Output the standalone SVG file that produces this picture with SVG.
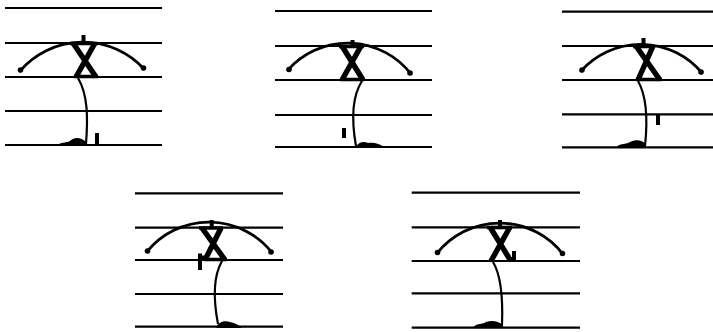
<svg xmlns="http://www.w3.org/2000/svg" width="713" height="332" viewBox="0 0 713 332">
<style>
.staff{stroke:#000;stroke-width:2.2;fill:none}
.arc{stroke:#000;stroke-width:2.8;fill:none;stroke-linecap:round}
.x{stroke:#000;stroke-width:5.4;fill:none;stroke-linejoin:miter}
.bar{stroke:#000;stroke-width:3.6;fill:none}
.tick{stroke:#000;stroke-width:4;fill:none}
.stem{stroke:#000;stroke-width:2.2;fill:none}
.ink{fill:#000}
</style>
<rect width="713" height="332" fill="#fff"/>

<g id="figure1">
  <path class="staff" d="M5,8H162M5,43H162M5,77H162M5,111H162M5,145H162"/>
  <path class="arc" d="M20,71 A83,83 0 0 1 144,69"/>
  <circle class="ink" cx="20.5" cy="70" r="2.8"/><circle class="ink" cx="143.5" cy="68" r="2.8"/>
  <path class="bar" d="M70,43.5H98M74,76.5H98"/>
  <path class="x" d="M73,43 L96,77 M95,43 L76,77"/>
  <path class="tick" d="M83.5,35V44"/>
  <path class="stem" d="M78,78 C88,95 88,118 86,144"/>
  <path class="ink" d="M57,146 C59,142 66,143 70,141 C74,137 81,137 86,142 L86,146 Z"/>
  <rect class="ink" x="95" y="133" width="4" height="11"/>
</g>

<g id="figure2">
  <path class="staff" d="M275,11H432M275,46H432M275,80H432M275,115H432M275,147H432"/>
  <path class="arc" d="M288,70 A80,80 0 0 1 411,74"/>
  <circle class="ink" cx="289" cy="69.5" r="2.8"/><circle class="ink" cx="410" cy="73" r="2.8"/>
  <path class="bar" d="M339,46.5H364M340,79.5H364"/>
  <path class="x" d="M342,46 L363,80 M361,46 L342,80"/>
  <path class="tick" d="M352.5,40V47"/>
  <path class="stem" d="M362,81 C353,95 351,118 356,146"/>
  <path class="ink" d="M356,147 C358,142 364,141 368,143 C374,142 380,144 384,147 Z"/>
  <rect class="ink" x="342" y="128" width="4" height="10"/>
</g>

<g id="figure3">
  <path class="staff" d="M562,11.7H713M562,46H713M562,80H713M562,114.3H713M562,147.3H713"/>
  <path class="arc" d="M581,71 A80,80 0 0 1 702,73"/>
  <circle class="ink" cx="582" cy="70" r="2.8"/><circle class="ink" cx="701" cy="72" r="2.8"/>
  <path class="bar" d="M633,46.5H655M636,79.5H662"/>
  <path class="x" d="M636,46 L660,80 M653,46 L638,80"/>
  <path class="tick" d="M643.5,38V47"/>
  <path class="stem" d="M638,81 C646,95 648,118 645,146"/>
  <path class="ink" d="M616,148 C618,143 625,145 630,142 C636,139 642,140 646,144 L646,148 Z"/>
  <rect class="ink" x="656" y="115" width="4" height="10"/>
</g>

<g id="figure4">
  <path class="staff" d="M135,193.3H283M135,227.7H283M135,260H283M135,294H283M135,326.7H283"/>
  <path class="arc" d="M147,251.7 A80,80 0 0 1 272,252.7"/>
  <circle class="ink" cx="147.5" cy="251" r="2.8"/><circle class="ink" cx="271" cy="252" r="2.8"/>
  <path class="bar" d="M199,228H223M204,259.5H227"/>
  <path class="x" d="M202,228 L225,260 M221,228 L205,260"/>
  <path class="tick" d="M211.7,220V229"/>
  <path class="tick" d="M200,253.5V270M200,257.5H208"/>
  <path class="stem" d="M222,261 C214,275 213,298 218,324"/>
  <path class="ink" d="M216,328 C218,322 224,320 230,322 C235,323 239,325 242,328 Z"/>
</g>

<g id="figure5">
  <path class="staff" d="M411.7,192.7H580M411.7,227.3H580M411.7,261H580M411.7,293.3H580M411.7,327.7H580"/>
  <path class="arc" d="M437,253.3 A80,80 0 0 1 563,254.3"/>
  <circle class="ink" cx="437.5" cy="252.5" r="2.8"/><circle class="ink" cx="562.5" cy="253.5" r="2.8"/>
  <path class="bar" d="M487,227.5H512"/>
  <path class="x" d="M490,227 L509,258 M510,227 L491,261"/>
  <path class="tick" d="M500,220V228"/>
  <path class="tick" d="M514,251V261M507,259H516"/>
  <path class="stem" d="M493,262 C501,275 503,298 502,325"/>
  <path class="ink" d="M473,328 C475,323 481,325 486,322 C492,320 498,321 503,325 L503,328 Z"/>
</g>
</svg>
